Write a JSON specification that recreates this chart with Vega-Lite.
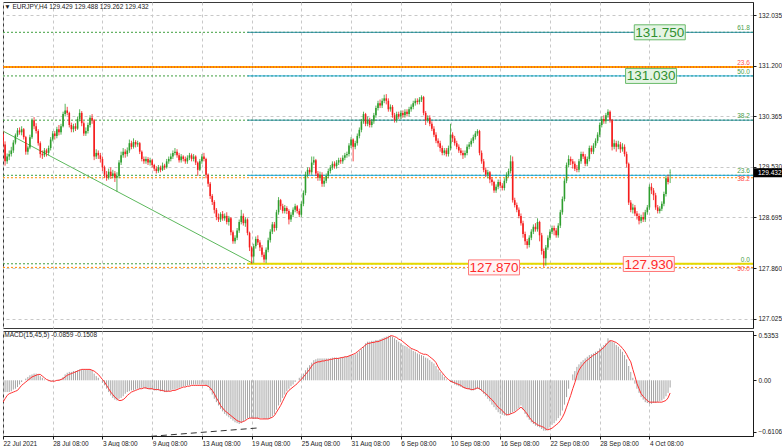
{
"$schema":"https://vega.github.io/schema/vega-lite/v6.json",
"background":"white",
"padding":{"left":2,"top":1,"right":0,"bottom":0},
"spacing":1,
"resolve":{"scale":{"x":"independent","y":"independent"}},
"config":{"font":"Liberation Sans","view":{"stroke":"#3a3a3a","strokeWidth":1},
"axis":{"labelFont":"Liberation Sans","labelFontSize":6.5,"labelColor":"#1a1a1a","tickColor":"#1a1a1a","domainColor":"#1a1a1a","gridColor":"#c8c8c8","gridDash":[3,3],"tickSize":3}},
"datasets":{"bars":[
{"i":0,"o":130.07,"hi":130.12,"lo":129.85,"c":129.90,"m":-0.14,"s":-0.26},
{"i":1,"o":129.90,"hi":129.95,"lo":129.55,"c":129.62,"m":-0.14,"s":-0.22},
{"i":2,"o":129.62,"hi":129.75,"lo":129.58,"c":129.70,"m":-0.14,"s":-0.18},
{"i":3,"o":129.70,"hi":129.80,"lo":129.64,"c":129.74,"m":-0.14,"s":-0.16},
{"i":4,"o":129.74,"hi":129.86,"lo":129.70,"c":129.80,"m":-0.13,"s":-0.15},
{"i":5,"o":129.80,"hi":129.97,"lo":129.76,"c":129.93,"m":-0.11,"s":-0.14},
{"i":6,"o":129.93,"hi":130.08,"lo":129.90,"c":130.05,"m":-0.10,"s":-0.13},
{"i":7,"o":130.05,"hi":130.17,"lo":130.02,"c":130.13,"m":-0.08,"s":-0.12},
{"i":8,"o":130.13,"hi":130.18,"lo":130.06,"c":130.10,"m":-0.05,"s":-0.09},
{"i":9,"o":130.10,"hi":130.20,"lo":130.05,"c":130.15,"m":-0.02,"s":-0.06},
{"i":10,"o":130.15,"hi":130.17,"lo":129.98,"c":130.02,"m":0.0,"s":-0.04},
{"i":11,"o":130.02,"hi":130.04,"lo":129.73,"c":129.78,"m":0.02,"s":-0.02},
{"i":12,"o":129.78,"hi":129.88,"lo":129.73,"c":129.85,"m":0.04,"s":0.0},
{"i":13,"o":129.85,"hi":130.06,"lo":129.82,"c":130.02,"m":0.06,"s":0.02},
{"i":14,"o":130.02,"hi":130.33,"lo":129.99,"c":130.30,"m":0.07,"s":0.04},
{"i":15,"o":130.30,"hi":130.35,"lo":130.15,"c":130.20,"m":0.08,"s":0.05},
{"i":16,"o":130.20,"hi":130.25,"lo":130.08,"c":130.12,"m":0.08,"s":0.06},
{"i":17,"o":130.12,"hi":130.15,"lo":129.88,"c":129.92,"m":0.07,"s":0.07},
{"i":18,"o":129.92,"hi":129.95,"lo":129.68,"c":129.74,"m":0.05,"s":0.07},
{"i":19,"o":129.74,"hi":129.80,"lo":129.66,"c":129.72,"m":0.03,"s":0.05},
{"i":20,"o":129.72,"hi":129.84,"lo":129.69,"c":129.80,"m":0.01,"s":0.03},
{"i":21,"o":129.80,"hi":129.83,"lo":129.70,"c":129.76,"m":0.0,"s":0.01},
{"i":22,"o":129.76,"hi":129.88,"lo":129.72,"c":129.84,"m":-0.01,"s":0.0},
{"i":23,"o":129.84,"hi":130.02,"lo":129.80,"c":129.98,"m":-0.01,"s":-0.01},
{"i":24,"o":129.98,"hi":130.12,"lo":129.95,"c":130.08,"m":-0.01,"s":-0.01},
{"i":25,"o":130.08,"hi":130.12,"lo":129.98,"c":130.04,"m":0.0,"s":-0.01},
{"i":26,"o":130.04,"hi":130.19,"lo":130.00,"c":130.15,"m":0.0,"s":0.0},
{"i":27,"o":130.15,"hi":130.22,"lo":130.05,"c":130.10,"m":0.01,"s":0.0},
{"i":28,"o":130.10,"hi":130.24,"lo":130.06,"c":130.20,"m":0.01,"s":0.01},
{"i":29,"o":130.20,"hi":130.44,"lo":130.18,"c":130.40,"m":0.04,"s":0.02},
{"i":30,"o":130.40,"hi":130.57,"lo":130.36,"c":130.46,"m":0.07,"s":0.04},
{"i":31,"o":130.46,"hi":130.52,"lo":130.38,"c":130.42,"m":0.09,"s":0.06},
{"i":32,"o":130.42,"hi":130.44,"lo":130.18,"c":130.22,"m":0.10,"s":0.07},
{"i":33,"o":130.22,"hi":130.26,"lo":130.10,"c":130.15,"m":0.10,"s":0.08},
{"i":34,"o":130.15,"hi":130.24,"lo":130.10,"c":130.20,"m":0.11,"s":0.09},
{"i":35,"o":130.20,"hi":130.25,"lo":130.12,"c":130.16,"m":0.11,"s":0.10},
{"i":36,"o":130.16,"hi":130.36,"lo":130.14,"c":130.32,"m":0.12,"s":0.11},
{"i":37,"o":130.32,"hi":130.48,"lo":130.28,"c":130.42,"m":0.13,"s":0.12},
{"i":38,"o":130.42,"hi":130.45,"lo":130.20,"c":130.25,"m":0.13,"s":0.13},
{"i":39,"o":130.25,"hi":130.28,"lo":130.04,"c":130.08,"m":0.13,"s":0.13},
{"i":40,"o":130.08,"hi":130.18,"lo":130.04,"c":130.12,"m":0.13,"s":0.13},
{"i":41,"o":130.12,"hi":130.26,"lo":130.08,"c":130.22,"m":0.13,"s":0.13},
{"i":42,"o":130.22,"hi":130.38,"lo":130.18,"c":130.34,"m":0.13,"s":0.13},
{"i":43,"o":130.34,"hi":130.40,"lo":130.24,"c":130.30,"m":0.12,"s":0.12},
{"i":44,"o":130.30,"hi":130.32,"lo":129.64,"c":129.70,"m":0.08,"s":0.11},
{"i":45,"o":129.70,"hi":129.82,"lo":129.66,"c":129.76,"m":0.05,"s":0.09},
{"i":46,"o":129.76,"hi":129.80,"lo":129.66,"c":129.72,"m":0.03,"s":0.07},
{"i":47,"o":129.72,"hi":129.76,"lo":129.60,"c":129.66,"m":0.0,"s":0.04},
{"i":48,"o":129.66,"hi":129.70,"lo":129.46,"c":129.52,"m":-0.03,"s":0.01},
{"i":49,"o":129.52,"hi":129.55,"lo":129.35,"c":129.40,"m":-0.06,"s":-0.02},
{"i":50,"o":129.40,"hi":129.46,"lo":129.30,"c":129.35,"m":-0.10,"s":-0.06},
{"i":51,"o":129.35,"hi":129.50,"lo":129.32,"c":129.45,"m":-0.14,"s":-0.10},
{"i":52,"o":129.45,"hi":129.52,"lo":129.33,"c":129.38,"m":-0.18,"s":-0.14},
{"i":53,"o":129.38,"hi":129.48,"lo":129.34,"c":129.42,"m":-0.21,"s":-0.17},
{"i":54,"o":129.42,"hi":129.46,"lo":129.28,"c":129.35,"m":-0.23,"s":-0.20},
{"i":55,"o":129.35,"hi":129.44,"lo":129.12,"c":129.38,"m":-0.24,"s":-0.22},
{"i":56,"o":129.38,"hi":129.64,"lo":129.34,"c":129.60,"m":-0.22,"s":-0.24},
{"i":57,"o":129.60,"hi":129.78,"lo":129.56,"c":129.72,"m":-0.21,"s":-0.24},
{"i":58,"o":129.72,"hi":129.84,"lo":129.68,"c":129.78,"m":-0.19,"s":-0.23},
{"i":59,"o":129.78,"hi":129.82,"lo":129.68,"c":129.74,"m":-0.16,"s":-0.21},
{"i":60,"o":129.74,"hi":129.85,"lo":129.70,"c":129.80,"m":-0.14,"s":-0.18},
{"i":61,"o":129.80,"hi":129.98,"lo":129.76,"c":129.92,"m":-0.13,"s":-0.16},
{"i":62,"o":129.92,"hi":129.96,"lo":129.82,"c":129.86,"m":-0.12,"s":-0.14},
{"i":63,"o":129.86,"hi":130.00,"lo":129.83,"c":129.94,"m":-0.12,"s":-0.13},
{"i":64,"o":129.94,"hi":129.97,"lo":129.85,"c":129.90,"m":-0.11,"s":-0.12},
{"i":65,"o":129.90,"hi":129.96,"lo":129.86,"c":129.92,"m":-0.10,"s":-0.11},
{"i":66,"o":129.92,"hi":129.94,"lo":129.74,"c":129.78,"m":-0.10,"s":-0.10},
{"i":67,"o":129.78,"hi":129.80,"lo":129.62,"c":129.66,"m":-0.09,"s":-0.10},
{"i":68,"o":129.66,"hi":129.70,"lo":129.58,"c":129.62,"m":-0.09,"s":-0.09},
{"i":69,"o":129.62,"hi":129.70,"lo":129.58,"c":129.66,"m":-0.10,"s":-0.09},
{"i":70,"o":129.66,"hi":129.69,"lo":129.56,"c":129.60,"m":-0.10,"s":-0.10},
{"i":71,"o":129.60,"hi":129.68,"lo":129.55,"c":129.64,"m":-0.11,"s":-0.10},
{"i":72,"o":129.64,"hi":129.66,"lo":129.52,"c":129.56,"m":-0.11,"s":-0.10},
{"i":73,"o":129.56,"hi":129.58,"lo":129.46,"c":129.50,"m":-0.12,"s":-0.11},
{"i":74,"o":129.50,"hi":129.54,"lo":129.42,"c":129.46,"m":-0.12,"s":-0.11},
{"i":75,"o":129.46,"hi":129.56,"lo":129.43,"c":129.52,"m":-0.12,"s":-0.11},
{"i":76,"o":129.52,"hi":129.55,"lo":129.44,"c":129.48,"m":-0.13,"s":-0.12},
{"i":77,"o":129.48,"hi":129.60,"lo":129.46,"c":129.55,"m":-0.13,"s":-0.12},
{"i":78,"o":129.55,"hi":129.58,"lo":129.48,"c":129.52,"m":-0.14,"s":-0.13},
{"i":79,"o":129.52,"hi":129.66,"lo":129.50,"c":129.62,"m":-0.14,"s":-0.13},
{"i":80,"o":129.62,"hi":129.70,"lo":129.58,"c":129.66,"m":-0.13,"s":-0.13},
{"i":81,"o":129.66,"hi":129.75,"lo":129.62,"c":129.70,"m":-0.12,"s":-0.13},
{"i":82,"o":129.70,"hi":129.80,"lo":129.66,"c":129.76,"m":-0.11,"s":-0.12},
{"i":83,"o":129.76,"hi":129.84,"lo":129.72,"c":129.78,"m":-0.11,"s":-0.12},
{"i":84,"o":129.78,"hi":129.82,"lo":129.68,"c":129.72,"m":-0.10,"s":-0.11},
{"i":85,"o":129.72,"hi":129.76,"lo":129.60,"c":129.64,"m":-0.09,"s":-0.10},
{"i":86,"o":129.64,"hi":129.74,"lo":129.60,"c":129.70,"m":-0.08,"s":-0.09},
{"i":87,"o":129.70,"hi":129.72,"lo":129.62,"c":129.66,"m":-0.07,"s":-0.08},
{"i":88,"o":129.66,"hi":129.70,"lo":129.58,"c":129.62,"m":-0.07,"s":-0.08},
{"i":89,"o":129.62,"hi":129.72,"lo":129.58,"c":129.68,"m":-0.06,"s":-0.07},
{"i":90,"o":129.68,"hi":129.76,"lo":129.64,"c":129.72,"m":-0.06,"s":-0.07},
{"i":91,"o":129.72,"hi":129.75,"lo":129.62,"c":129.66,"m":-0.05,"s":-0.06},
{"i":92,"o":129.66,"hi":129.74,"lo":129.62,"c":129.70,"m":-0.05,"s":-0.06},
{"i":93,"o":129.70,"hi":129.72,"lo":129.56,"c":129.60,"m":-0.05,"s":-0.06},
{"i":94,"o":129.60,"hi":129.62,"lo":129.38,"c":129.48,"m":-0.05,"s":-0.06},
{"i":95,"o":129.48,"hi":129.66,"lo":129.46,"c":129.62,"m":-0.05,"s":-0.06},
{"i":96,"o":129.62,"hi":129.74,"lo":129.58,"c":129.70,"m":-0.05,"s":-0.06},
{"i":97,"o":129.70,"hi":129.76,"lo":129.62,"c":129.66,"m":-0.05,"s":-0.06},
{"i":98,"o":129.66,"hi":129.68,"lo":129.34,"c":129.40,"m":-0.06,"s":-0.06},
{"i":99,"o":129.40,"hi":129.42,"lo":129.20,"c":129.25,"m":-0.08,"s":-0.07},
{"i":100,"o":129.25,"hi":129.28,"lo":129.00,"c":129.05,"m":-0.12,"s":-0.09},
{"i":101,"o":129.05,"hi":129.08,"lo":128.90,"c":128.95,"m":-0.17,"s":-0.12},
{"i":102,"o":128.95,"hi":128.98,"lo":128.76,"c":128.82,"m":-0.22,"s":-0.16},
{"i":103,"o":128.82,"hi":128.85,"lo":128.65,"c":128.70,"m":-0.26,"s":-0.21},
{"i":104,"o":128.70,"hi":128.76,"lo":128.62,"c":128.66,"m":-0.30,"s":-0.25},
{"i":105,"o":128.66,"hi":128.78,"lo":128.62,"c":128.75,"m":-0.34,"s":-0.30},
{"i":106,"o":128.75,"hi":128.80,"lo":128.64,"c":128.68,"m":-0.37,"s":-0.33},
{"i":107,"o":128.68,"hi":128.76,"lo":128.64,"c":128.72,"m":-0.40,"s":-0.36},
{"i":108,"o":128.72,"hi":128.78,"lo":128.58,"c":128.62,"m":-0.42,"s":-0.38},
{"i":109,"o":128.62,"hi":128.72,"lo":128.56,"c":128.68,"m":-0.44,"s":-0.40},
{"i":110,"o":128.68,"hi":128.70,"lo":128.40,"c":128.45,"m":-0.46,"s":-0.42},
{"i":111,"o":128.45,"hi":128.48,"lo":128.26,"c":128.30,"m":-0.48,"s":-0.44},
{"i":112,"o":128.30,"hi":128.40,"lo":128.26,"c":128.36,"m":-0.50,"s":-0.46},
{"i":113,"o":128.36,"hi":128.52,"lo":128.32,"c":128.48,"m":-0.51,"s":-0.48},
{"i":114,"o":128.48,"hi":128.66,"lo":128.44,"c":128.62,"m":-0.52,"s":-0.49},
{"i":115,"o":128.62,"hi":128.82,"lo":128.58,"c":128.72,"m":-0.51,"s":-0.50},
{"i":116,"o":128.72,"hi":128.76,"lo":128.56,"c":128.60,"m":-0.49,"s":-0.49},
{"i":117,"o":128.60,"hi":128.70,"lo":128.54,"c":128.66,"m":-0.47,"s":-0.48},
{"i":118,"o":128.66,"hi":128.68,"lo":128.40,"c":128.44,"m":-0.45,"s":-0.46},
{"i":119,"o":128.44,"hi":128.46,"lo":128.14,"c":128.20,"m":-0.45,"s":-0.45},
{"i":120,"o":128.20,"hi":128.22,"lo":127.93,"c":128.05,"m":-0.45,"s":-0.45},
{"i":121,"o":128.05,"hi":128.26,"lo":127.94,"c":128.22,"m":-0.46,"s":-0.45},
{"i":122,"o":128.22,"hi":128.38,"lo":128.18,"c":128.34,"m":-0.46,"s":-0.45},
{"i":123,"o":128.34,"hi":128.40,"lo":128.24,"c":128.28,"m":-0.46,"s":-0.45},
{"i":124,"o":128.28,"hi":128.32,"lo":128.14,"c":128.20,"m":-0.45,"s":-0.46},
{"i":125,"o":128.20,"hi":128.24,"lo":128.04,"c":128.08,"m":-0.45,"s":-0.46},
{"i":126,"o":128.08,"hi":128.12,"lo":127.95,"c":128.00,"m":-0.46,"s":-0.46},
{"i":127,"o":128.00,"hi":128.20,"lo":127.94,"c":128.16,"m":-0.46,"s":-0.46},
{"i":128,"o":128.16,"hi":128.36,"lo":128.12,"c":128.32,"m":-0.46,"s":-0.46},
{"i":129,"o":128.32,"hi":128.50,"lo":128.28,"c":128.46,"m":-0.45,"s":-0.45},
{"i":130,"o":128.46,"hi":128.62,"lo":128.42,"c":128.58,"m":-0.43,"s":-0.44},
{"i":131,"o":128.58,"hi":128.62,"lo":128.46,"c":128.52,"m":-0.40,"s":-0.42},
{"i":132,"o":128.52,"hi":128.82,"lo":128.48,"c":128.78,"m":-0.35,"s":-0.38},
{"i":133,"o":128.78,"hi":129.03,"lo":128.74,"c":128.98,"m":-0.30,"s":-0.34},
{"i":134,"o":128.98,"hi":129.00,"lo":128.82,"c":128.88,"m":-0.26,"s":-0.30},
{"i":135,"o":128.88,"hi":128.92,"lo":128.76,"c":128.80,"m":-0.21,"s":-0.25},
{"i":136,"o":128.80,"hi":128.90,"lo":128.76,"c":128.85,"m":-0.17,"s":-0.20},
{"i":137,"o":128.85,"hi":128.88,"lo":128.75,"c":128.80,"m":-0.13,"s":-0.15},
{"i":138,"o":128.80,"hi":128.83,"lo":128.58,"c":128.66,"m":-0.10,"s":-0.12},
{"i":139,"o":128.66,"hi":128.78,"lo":128.62,"c":128.74,"m":-0.07,"s":-0.10},
{"i":140,"o":128.74,"hi":128.86,"lo":128.70,"c":128.82,"m":-0.05,"s":-0.08},
{"i":141,"o":128.82,"hi":128.92,"lo":128.78,"c":128.88,"m":-0.02,"s":-0.06},
{"i":142,"o":128.88,"hi":128.90,"lo":128.76,"c":128.80,"m":0.0,"s":-0.04},
{"i":143,"o":128.80,"hi":128.84,"lo":128.70,"c":128.74,"m":0.03,"s":-0.01},
{"i":144,"o":128.74,"hi":128.96,"lo":128.70,"c":128.92,"m":0.05,"s":0.01},
{"i":145,"o":128.92,"hi":129.14,"lo":128.88,"c":129.10,"m":0.08,"s":0.04},
{"i":146,"o":129.10,"hi":129.45,"lo":129.06,"c":129.40,"m":0.12,"s":0.07},
{"i":147,"o":129.40,"hi":129.52,"lo":129.36,"c":129.48,"m":0.15,"s":0.10},
{"i":148,"o":129.48,"hi":129.52,"lo":129.40,"c":129.44,"m":0.18,"s":0.13},
{"i":149,"o":129.44,"hi":129.70,"lo":129.40,"c":129.60,"m":0.21,"s":0.17},
{"i":150,"o":129.60,"hi":129.70,"lo":129.56,"c":129.64,"m":0.24,"s":0.20},
{"i":151,"o":129.64,"hi":129.66,"lo":129.38,"c":129.42,"m":0.25,"s":0.21},
{"i":152,"o":129.42,"hi":129.46,"lo":129.30,"c":129.35,"m":0.26,"s":0.22},
{"i":153,"o":129.35,"hi":129.45,"lo":129.30,"c":129.40,"m":0.26,"s":0.22},
{"i":154,"o":129.40,"hi":129.44,"lo":129.20,"c":129.25,"m":0.26,"s":0.23},
{"i":155,"o":129.25,"hi":129.35,"lo":129.20,"c":129.30,"m":0.26,"s":0.23},
{"i":156,"o":129.30,"hi":129.42,"lo":129.26,"c":129.38,"m":0.26,"s":0.24},
{"i":157,"o":129.38,"hi":129.50,"lo":129.34,"c":129.46,"m":0.26,"s":0.24},
{"i":158,"o":129.46,"hi":129.56,"lo":129.42,"c":129.52,"m":0.26,"s":0.25},
{"i":159,"o":129.52,"hi":129.62,"lo":129.48,"c":129.58,"m":0.27,"s":0.25},
{"i":160,"o":129.58,"hi":129.62,"lo":129.50,"c":129.54,"m":0.27,"s":0.26},
{"i":161,"o":129.54,"hi":129.64,"lo":129.50,"c":129.60,"m":0.27,"s":0.26},
{"i":162,"o":129.60,"hi":129.68,"lo":129.56,"c":129.64,"m":0.27,"s":0.26},
{"i":163,"o":129.64,"hi":129.68,"lo":129.58,"c":129.62,"m":0.27,"s":0.27},
{"i":164,"o":129.62,"hi":129.72,"lo":129.58,"c":129.68,"m":0.28,"s":0.27},
{"i":165,"o":129.68,"hi":129.76,"lo":129.64,"c":129.72,"m":0.28,"s":0.28},
{"i":166,"o":129.72,"hi":129.78,"lo":129.68,"c":129.74,"m":0.28,"s":0.28},
{"i":167,"o":129.74,"hi":129.92,"lo":129.70,"c":129.88,"m":0.29,"s":0.29},
{"i":168,"o":129.88,"hi":130.02,"lo":129.84,"c":129.98,"m":0.30,"s":0.30},
{"i":169,"o":129.98,"hi":130.00,"lo":129.62,"c":129.86,"m":0.30,"s":0.31},
{"i":170,"o":129.86,"hi":129.96,"lo":129.82,"c":129.92,"m":0.31,"s":0.32},
{"i":171,"o":129.92,"hi":130.08,"lo":129.88,"c":130.04,"m":0.33,"s":0.34},
{"i":172,"o":130.04,"hi":130.18,"lo":130.00,"c":130.14,"m":0.35,"s":0.36},
{"i":173,"o":130.14,"hi":130.32,"lo":130.10,"c":130.28,"m":0.37,"s":0.38},
{"i":174,"o":130.28,"hi":130.44,"lo":130.24,"c":130.40,"m":0.40,"s":0.40},
{"i":175,"o":130.40,"hi":130.42,"lo":130.20,"c":130.24,"m":0.44,"s":0.42},
{"i":176,"o":130.24,"hi":130.36,"lo":130.20,"c":130.30,"m":0.46,"s":0.44},
{"i":177,"o":130.30,"hi":130.34,"lo":130.18,"c":130.22,"m":0.46,"s":0.44},
{"i":178,"o":130.22,"hi":130.32,"lo":130.18,"c":130.28,"m":0.47,"s":0.45},
{"i":179,"o":130.28,"hi":130.42,"lo":130.24,"c":130.38,"m":0.47,"s":0.45},
{"i":180,"o":130.38,"hi":130.54,"lo":130.34,"c":130.50,"m":0.48,"s":0.46},
{"i":181,"o":130.50,"hi":130.62,"lo":130.46,"c":130.58,"m":0.48,"s":0.46},
{"i":182,"o":130.58,"hi":130.64,"lo":130.50,"c":130.54,"m":0.49,"s":0.47},
{"i":183,"o":130.54,"hi":130.66,"lo":130.50,"c":130.62,"m":0.50,"s":0.48},
{"i":184,"o":130.62,"hi":130.72,"lo":130.58,"c":130.66,"m":0.51,"s":0.49},
{"i":185,"o":130.66,"hi":130.73,"lo":130.56,"c":130.62,"m":0.52,"s":0.50},
{"i":186,"o":130.62,"hi":130.66,"lo":130.44,"c":130.48,"m":0.53,"s":0.51},
{"i":187,"o":130.48,"hi":130.56,"lo":130.44,"c":130.52,"m":0.53,"s":0.53},
{"i":188,"o":130.52,"hi":130.55,"lo":130.34,"c":130.38,"m":0.52,"s":0.53},
{"i":189,"o":130.38,"hi":130.42,"lo":130.26,"c":130.30,"m":0.50,"s":0.52},
{"i":190,"o":130.30,"hi":130.44,"lo":130.26,"c":130.40,"m":0.48,"s":0.51},
{"i":191,"o":130.40,"hi":130.44,"lo":130.32,"c":130.36,"m":0.46,"s":0.49},
{"i":192,"o":130.36,"hi":130.46,"lo":130.32,"c":130.42,"m":0.44,"s":0.48},
{"i":193,"o":130.42,"hi":130.46,"lo":130.34,"c":130.38,"m":0.42,"s":0.46},
{"i":194,"o":130.38,"hi":130.48,"lo":130.34,"c":130.44,"m":0.41,"s":0.44},
{"i":195,"o":130.44,"hi":130.48,"lo":130.36,"c":130.40,"m":0.40,"s":0.42},
{"i":196,"o":130.40,"hi":130.52,"lo":130.36,"c":130.48,"m":0.38,"s":0.40},
{"i":197,"o":130.48,"hi":130.56,"lo":130.44,"c":130.52,"m":0.37,"s":0.38},
{"i":198,"o":130.52,"hi":130.62,"lo":130.48,"c":130.58,"m":0.35,"s":0.37},
{"i":199,"o":130.58,"hi":130.66,"lo":130.54,"c":130.62,"m":0.34,"s":0.36},
{"i":200,"o":130.62,"hi":130.66,"lo":130.56,"c":130.60,"m":0.32,"s":0.35},
{"i":201,"o":130.60,"hi":130.68,"lo":130.56,"c":130.64,"m":0.31,"s":0.33},
{"i":202,"o":130.64,"hi":130.71,"lo":130.60,"c":130.68,"m":0.30,"s":0.32},
{"i":203,"o":130.68,"hi":130.70,"lo":130.38,"c":130.42,"m":0.29,"s":0.31},
{"i":204,"o":130.42,"hi":130.45,"lo":130.22,"c":130.30,"m":0.27,"s":0.31},
{"i":205,"o":130.30,"hi":130.38,"lo":130.26,"c":130.34,"m":0.26,"s":0.30},
{"i":206,"o":130.34,"hi":130.38,"lo":130.20,"c":130.24,"m":0.24,"s":0.28},
{"i":207,"o":130.24,"hi":130.28,"lo":130.12,"c":130.16,"m":0.22,"s":0.26},
{"i":208,"o":130.16,"hi":130.20,"lo":130.02,"c":130.06,"m":0.20,"s":0.24},
{"i":209,"o":130.06,"hi":130.10,"lo":129.92,"c":129.96,"m":0.17,"s":0.21},
{"i":210,"o":129.96,"hi":130.00,"lo":129.86,"c":129.92,"m":0.13,"s":0.16},
{"i":211,"o":129.92,"hi":129.96,"lo":129.78,"c":129.84,"m":0.10,"s":0.12},
{"i":212,"o":129.84,"hi":129.88,"lo":129.72,"c":129.76,"m":0.07,"s":0.09},
{"i":213,"o":129.76,"hi":129.84,"lo":129.72,"c":129.80,"m":0.04,"s":0.06},
{"i":214,"o":129.80,"hi":129.84,"lo":129.70,"c":129.74,"m":0.01,"s":0.03},
{"i":215,"o":129.74,"hi":129.88,"lo":129.70,"c":129.84,"m":0.0,"s":0.01},
{"i":216,"o":129.84,"hi":130.24,"lo":129.80,"c":130.06,"m":-0.02,"s":-0.01},
{"i":217,"o":130.06,"hi":130.10,"lo":129.94,"c":130.00,"m":-0.03,"s":-0.02},
{"i":218,"o":130.00,"hi":130.04,"lo":129.88,"c":129.92,"m":-0.05,"s":-0.03},
{"i":219,"o":129.92,"hi":129.96,"lo":129.82,"c":129.86,"m":-0.06,"s":-0.04},
{"i":220,"o":129.86,"hi":129.90,"lo":129.76,"c":129.80,"m":-0.07,"s":-0.05},
{"i":221,"o":129.80,"hi":129.84,"lo":129.72,"c":129.76,"m":-0.08,"s":-0.06},
{"i":222,"o":129.76,"hi":129.80,"lo":129.66,"c":129.72,"m":-0.09,"s":-0.08},
{"i":223,"o":129.72,"hi":129.80,"lo":129.68,"c":129.76,"m":-0.10,"s":-0.09},
{"i":224,"o":129.76,"hi":129.90,"lo":129.72,"c":129.86,"m":-0.10,"s":-0.10},
{"i":225,"o":129.86,"hi":129.94,"lo":129.82,"c":129.90,"m":-0.11,"s":-0.10},
{"i":226,"o":129.90,"hi":130.00,"lo":129.86,"c":129.96,"m":-0.12,"s":-0.11},
{"i":227,"o":129.96,"hi":130.06,"lo":129.92,"c":130.02,"m":-0.12,"s":-0.11},
{"i":228,"o":130.02,"hi":130.12,"lo":129.98,"c":130.08,"m":-0.11,"s":-0.10},
{"i":229,"o":130.08,"hi":130.15,"lo":130.04,"c":130.12,"m":-0.10,"s":-0.09},
{"i":230,"o":130.12,"hi":130.14,"lo":129.72,"c":129.76,"m":-0.11,"s":-0.10},
{"i":231,"o":129.76,"hi":129.80,"lo":129.58,"c":129.62,"m":-0.13,"s":-0.12},
{"i":232,"o":129.62,"hi":129.66,"lo":129.44,"c":129.48,"m":-0.16,"s":-0.14},
{"i":233,"o":129.48,"hi":129.52,"lo":129.36,"c":129.40,"m":-0.19,"s":-0.16},
{"i":234,"o":129.40,"hi":129.48,"lo":129.34,"c":129.44,"m":-0.22,"s":-0.18},
{"i":235,"o":129.44,"hi":129.46,"lo":129.26,"c":129.32,"m":-0.25,"s":-0.21},
{"i":236,"o":129.32,"hi":129.36,"lo":129.22,"c":129.28,"m":-0.29,"s":-0.23},
{"i":237,"o":129.28,"hi":129.30,"lo":129.10,"c":129.14,"m":-0.32,"s":-0.26},
{"i":238,"o":129.14,"hi":129.24,"lo":129.10,"c":129.20,"m":-0.35,"s":-0.29},
{"i":239,"o":129.20,"hi":129.32,"lo":129.16,"c":129.28,"m":-0.38,"s":-0.32},
{"i":240,"o":129.28,"hi":129.32,"lo":129.18,"c":129.22,"m":-0.40,"s":-0.34},
{"i":241,"o":129.22,"hi":129.26,"lo":129.14,"c":129.18,"m":-0.41,"s":-0.36},
{"i":242,"o":129.18,"hi":129.34,"lo":129.14,"c":129.30,"m":-0.42,"s":-0.39},
{"i":243,"o":129.30,"hi":129.44,"lo":129.26,"c":129.40,"m":-0.42,"s":-0.41},
{"i":244,"o":129.40,"hi":129.50,"lo":129.36,"c":129.46,"m":-0.41,"s":-0.41},
{"i":245,"o":129.46,"hi":129.72,"lo":129.42,"c":129.62,"m":-0.40,"s":-0.40},
{"i":246,"o":129.62,"hi":129.70,"lo":128.94,"c":128.98,"m":-0.38,"s":-0.39},
{"i":247,"o":128.98,"hi":129.02,"lo":128.86,"c":128.90,"m":-0.37,"s":-0.38},
{"i":248,"o":128.90,"hi":128.94,"lo":128.78,"c":128.82,"m":-0.35,"s":-0.36},
{"i":249,"o":128.82,"hi":128.86,"lo":128.68,"c":128.72,"m":-0.33,"s":-0.34},
{"i":250,"o":128.72,"hi":128.76,"lo":128.56,"c":128.60,"m":-0.30,"s":-0.32},
{"i":251,"o":128.60,"hi":128.64,"lo":128.36,"c":128.42,"m":-0.35,"s":-0.34},
{"i":252,"o":128.42,"hi":128.46,"lo":128.24,"c":128.30,"m":-0.40,"s":-0.37},
{"i":253,"o":128.30,"hi":128.34,"lo":128.18,"c":128.24,"m":-0.44,"s":-0.40},
{"i":254,"o":128.24,"hi":128.40,"lo":128.20,"c":128.36,"m":-0.47,"s":-0.44},
{"i":255,"o":128.36,"hi":128.50,"lo":128.32,"c":128.46,"m":-0.50,"s":-0.47},
{"i":256,"o":128.46,"hi":128.58,"lo":128.42,"c":128.54,"m":-0.52,"s":-0.50},
{"i":257,"o":128.54,"hi":128.60,"lo":128.46,"c":128.50,"m":-0.54,"s":-0.51},
{"i":258,"o":128.50,"hi":128.68,"lo":128.46,"c":128.62,"m":-0.55,"s":-0.53},
{"i":259,"o":128.62,"hi":128.64,"lo":128.30,"c":128.40,"m":-0.56,"s":-0.54},
{"i":260,"o":128.40,"hi":128.44,"lo":128.08,"c":128.14,"m":-0.58,"s":-0.55},
{"i":261,"o":128.14,"hi":128.18,"lo":127.88,"c":128.02,"m":-0.60,"s":-0.56},
{"i":262,"o":128.02,"hi":128.24,"lo":127.90,"c":128.20,"m":-0.60,"s":-0.58},
{"i":263,"o":128.20,"hi":128.40,"lo":128.16,"c":128.36,"m":-0.58,"s":-0.59},
{"i":264,"o":128.36,"hi":128.50,"lo":128.32,"c":128.46,"m":-0.56,"s":-0.58},
{"i":265,"o":128.46,"hi":128.56,"lo":128.42,"c":128.52,"m":-0.53,"s":-0.57},
{"i":266,"o":128.52,"hi":128.56,"lo":128.40,"c":128.48,"m":-0.51,"s":-0.55},
{"i":267,"o":128.48,"hi":128.52,"lo":128.36,"c":128.40,"m":-0.48,"s":-0.53},
{"i":268,"o":128.40,"hi":128.60,"lo":128.36,"c":128.56,"m":-0.45,"s":-0.51},
{"i":269,"o":128.56,"hi":128.82,"lo":128.52,"c":128.78,"m":-0.42,"s":-0.48},
{"i":270,"o":128.78,"hi":129.04,"lo":128.74,"c":129.00,"m":-0.36,"s":-0.44},
{"i":271,"o":129.00,"hi":129.34,"lo":128.96,"c":129.30,"m":-0.29,"s":-0.39},
{"i":272,"o":129.30,"hi":129.60,"lo":129.26,"c":129.56,"m":-0.20,"s":-0.32},
{"i":273,"o":129.56,"hi":129.72,"lo":129.52,"c":129.66,"m":-0.10,"s":-0.25},
{"i":274,"o":129.66,"hi":129.70,"lo":129.56,"c":129.62,"m":0.0,"s":-0.18},
{"i":275,"o":129.62,"hi":129.66,"lo":129.50,"c":129.58,"m":0.07,"s":-0.10},
{"i":276,"o":129.58,"hi":129.62,"lo":129.46,"c":129.50,"m":0.11,"s":-0.03},
{"i":277,"o":129.50,"hi":129.56,"lo":129.44,"c":129.48,"m":0.16,"s":0.06},
{"i":278,"o":129.48,"hi":129.66,"lo":129.44,"c":129.62,"m":0.19,"s":0.12},
{"i":279,"o":129.62,"hi":129.78,"lo":129.58,"c":129.74,"m":0.22,"s":0.16},
{"i":280,"o":129.74,"hi":129.78,"lo":129.66,"c":129.70,"m":0.24,"s":0.19},
{"i":281,"o":129.70,"hi":129.74,"lo":129.54,"c":129.58,"m":0.26,"s":0.22},
{"i":282,"o":129.58,"hi":129.70,"lo":129.54,"c":129.66,"m":0.28,"s":0.24},
{"i":283,"o":129.66,"hi":129.88,"lo":129.62,"c":129.84,"m":0.30,"s":0.26},
{"i":284,"o":129.84,"hi":129.88,"lo":129.74,"c":129.78,"m":0.31,"s":0.28},
{"i":285,"o":129.78,"hi":129.92,"lo":129.74,"c":129.88,"m":0.32,"s":0.30},
{"i":286,"o":129.88,"hi":130.00,"lo":129.84,"c":129.96,"m":0.34,"s":0.31},
{"i":287,"o":129.96,"hi":130.10,"lo":129.92,"c":130.06,"m":0.35,"s":0.33},
{"i":288,"o":130.06,"hi":130.26,"lo":130.02,"c":130.22,"m":0.38,"s":0.35},
{"i":289,"o":130.22,"hi":130.36,"lo":130.18,"c":130.32,"m":0.40,"s":0.37},
{"i":290,"o":130.32,"hi":130.38,"lo":130.24,"c":130.28,"m":0.42,"s":0.39},
{"i":291,"o":130.28,"hi":130.42,"lo":130.24,"c":130.38,"m":0.44,"s":0.42},
{"i":292,"o":130.38,"hi":130.48,"lo":130.34,"c":130.44,"m":0.50,"s":0.45},
{"i":293,"o":130.44,"hi":130.46,"lo":130.26,"c":130.30,"m":0.48,"s":0.47},
{"i":294,"o":130.30,"hi":130.32,"lo":129.80,"c":129.86,"m":0.46,"s":0.47},
{"i":295,"o":129.86,"hi":129.98,"lo":129.82,"c":129.92,"m":0.45,"s":0.46},
{"i":296,"o":129.92,"hi":129.96,"lo":129.78,"c":129.86,"m":0.42,"s":0.45},
{"i":297,"o":129.86,"hi":129.96,"lo":129.82,"c":129.90,"m":0.40,"s":0.43},
{"i":298,"o":129.90,"hi":129.94,"lo":129.76,"c":129.82,"m":0.37,"s":0.41},
{"i":299,"o":129.82,"hi":129.92,"lo":129.78,"c":129.86,"m":0.34,"s":0.38},
{"i":300,"o":129.86,"hi":129.90,"lo":129.70,"c":129.74,"m":0.30,"s":0.35},
{"i":301,"o":129.74,"hi":129.78,"lo":129.52,"c":129.58,"m":0.25,"s":0.31},
{"i":302,"o":129.58,"hi":129.60,"lo":128.90,"c":128.94,"m":0.17,"s":0.26},
{"i":303,"o":128.94,"hi":128.98,"lo":128.78,"c":128.82,"m":0.10,"s":0.22},
{"i":304,"o":128.82,"hi":128.92,"lo":128.76,"c":128.86,"m":0.03,"s":0.13},
{"i":305,"o":128.86,"hi":128.90,"lo":128.72,"c":128.76,"m":-0.04,"s":0.05},
{"i":306,"o":128.76,"hi":128.80,"lo":128.66,"c":128.72,"m":-0.10,"s":-0.04},
{"i":307,"o":128.72,"hi":128.76,"lo":128.58,"c":128.64,"m":-0.15,"s":-0.10},
{"i":308,"o":128.64,"hi":128.74,"lo":128.60,"c":128.70,"m":-0.20,"s":-0.16},
{"i":309,"o":128.70,"hi":128.78,"lo":128.62,"c":128.66,"m":-0.23,"s":-0.19},
{"i":310,"o":128.66,"hi":128.82,"lo":128.62,"c":128.78,"m":-0.26,"s":-0.22},
{"i":311,"o":128.78,"hi":128.90,"lo":128.74,"c":128.86,"m":-0.27,"s":-0.24},
{"i":312,"o":128.86,"hi":129.24,"lo":128.82,"c":129.20,"m":-0.28,"s":-0.26},
{"i":313,"o":129.20,"hi":129.26,"lo":129.08,"c":129.14,"m":-0.28,"s":-0.26},
{"i":314,"o":129.14,"hi":129.18,"lo":128.98,"c":129.06,"m":-0.27,"s":-0.26},
{"i":315,"o":129.06,"hi":129.10,"lo":128.82,"c":128.86,"m":-0.27,"s":-0.26},
{"i":316,"o":128.86,"hi":128.90,"lo":128.76,"c":128.80,"m":-0.26,"s":-0.26},
{"i":317,"o":128.80,"hi":128.88,"lo":128.76,"c":128.84,"m":-0.25,"s":-0.26},
{"i":318,"o":128.84,"hi":128.96,"lo":128.80,"c":128.92,"m":-0.24,"s":-0.26},
{"i":319,"o":128.92,"hi":129.12,"lo":128.88,"c":129.08,"m":-0.22,"s":-0.25},
{"i":320,"o":129.08,"hi":129.38,"lo":129.04,"c":129.34,"m":-0.19,"s":-0.24},
{"i":321,"o":129.34,"hi":129.40,"lo":129.24,"c":129.28,"m":-0.15,"s":-0.21},
{"i":322,"o":129.429,"hi":129.488,"lo":129.262,"c":129.432,"m":-0.0859,"s":-0.1508}
]},
"vconcat":[
{"width":750,"height":326,
"layer":[
{"data":{"values":[{"v":131.75},{"v":131.03},{"v":130.30},{"v":129.39},{"v":127.93}]},
"mark":{"type":"rule","color":"#3f9f3f","strokeDash":[2,2],"strokeWidth":1,"clip":true},
"encoding":{"y":{"field":"v","type":"quantitative","scale":{"domain":[126.87,132.25],"nice":false,"zero":false},
"axis":{"orient":"right","values":[127.025,127.445,127.86,128.28,128.695,129.115,129.53,129.95,130.365,130.785,131.2,131.62,132.035],"format":".3f","grid":true,"tickSize":3,"labelPadding":2,"title":null}},
"x":{"datum":0,"type":"quantitative","scale":{"domain":[0,362],"nice":false,"zero":false},
"axis":{"values":[0,24,48,72,96,120,144,168,192,216,240,264,288,312],"labels":false,"ticks":false,"domain":false,"grid":true,"title":null}},
"x2":{"datum":362}}},
{"data":{"values":[{"v":131.75},{"v":130.30}]},
"mark":{"type":"rule","color":"#2b8aa0","strokeWidth":1,"clip":true},
"encoding":{"y":{"field":"v","type":"quantitative"},"x":{"datum":118,"type":"quantitative"},"x2":{"datum":362}}},
{"data":{"values":[{"v":131.03},{"v":129.39}]},
"mark":{"type":"rule","color":"#1ea4dc","strokeWidth":1,"clip":true},
"encoding":{"y":{"field":"v","type":"quantitative"},"x":{"datum":118,"type":"quantitative"},"x2":{"datum":362}}},
{"data":{"values":[{"v":131.177}]},
"mark":{"type":"rule","color":"#ffa000","strokeWidth":2,"clip":true},
"encoding":{"y":{"field":"v","type":"quantitative"},"x":{"datum":0,"type":"quantitative"},"x2":{"datum":362}}},
{"data":{"values":[{"v":131.177}]},
"mark":{"type":"rule","color":"#e83030","strokeDash":[1,2],"strokeWidth":1,"clip":true},
"encoding":{"y":{"field":"v","type":"quantitative"},"x":{"datum":0,"type":"quantitative"},"x2":{"datum":362}}},
{"data":{"values":[{"v":129.35},{"v":127.87}]},
"mark":{"type":"rule","color":"#ff8c00","strokeDash":[2,2],"strokeWidth":1,"clip":true},
"encoding":{"y":{"field":"v","type":"quantitative"},"x":{"datum":0,"type":"quantitative"},"x2":{"datum":362}}},
{"data":{"values":[{"v":127.93}]},
"mark":{"type":"rule","color":"#e6d800","strokeWidth":2,"clip":true},
"encoding":{"y":{"field":"v","type":"quantitative"},"x":{"datum":118,"type":"quantitative"},"x2":{"datum":362}}},
{"data":{"values":[{"i":0,"p":130.12},{"i":120.5,"p":127.94}]},
"mark":{"type":"line","color":"#5cb85c","strokeWidth":1,"clip":true},
"encoding":{"x":{"field":"i","type":"quantitative"},"y":{"field":"p","type":"quantitative"}}},
{"data":{"name":"bars"},
"mark":{"type":"rule","strokeWidth":0.8,"clip":true},
"encoding":{"x":{"field":"i","type":"quantitative"},"y":{"field":"lo","type":"quantitative"},"y2":{"field":"hi"},
"color":{"condition":{"test":"datum.c >= datum.o","value":"#2e9e2e"},"value":"#f51c1c"}}},
{"data":{"name":"bars"},
"mark":{"type":"rule","strokeWidth":1.6,"clip":true},
"encoding":{"x":{"field":"i","type":"quantitative"},"y":{"field":"o","type":"quantitative"},"y2":{"field":"c"},
"color":{"condition":{"test":"datum.c >= datum.o","value":"#2e9e2e"},"value":"#f51c1c"}}},
{"data":{"values":[{"t":"61.8","p":131.75},{"t":"50.0","p":131.03},{"t":"38.2","p":130.30},{"t":"23.6","p":129.39},{"t":"0.0","p":127.93}]},
"mark":{"type":"text","align":"right","baseline":"bottom","dy":-1,"fontSize":6.5,"color":"#4a9e4a"},
"encoding":{"x":{"datum":360.5,"type":"quantitative"},"y":{"field":"p","type":"quantitative"},"text":{"field":"t"}}},
{"data":{"values":[{"t":"23.6","p":131.177}]},
"mark":{"type":"text","align":"right","baseline":"bottom","dy":-1,"fontSize":6.5,"color":"#ff5050"},
"encoding":{"x":{"datum":360.5,"type":"quantitative"},"y":{"field":"p","type":"quantitative"},"text":{"field":"t"}}},
{"data":{"values":[{"t":"38.2","p":129.35},{"t":"50.0","p":127.87}]},
"mark":{"type":"text","align":"right","baseline":"top","dy":-1.5,"fontSize":6.5,"color":"#ff5050"},
"encoding":{"x":{"datum":360.5,"type":"quantitative"},"y":{"field":"p","type":"quantitative"},"text":{"field":"t"}}},
{"data":{"values":[{"t":"131.750","i":317,"p":131.75},{"t":"131.030","i":312.8,"p":131.03}]},
"mark":{"type":"rect","fill":"#e4f4e4","stroke":"#6aba6a","strokeWidth":1,"xOffset":-25.5,"x2Offset":25.5,"yOffset":-7.5,"y2Offset":7.5},
"encoding":{"x":{"field":"i","type":"quantitative"},"x2":{"field":"i"},"y":{"field":"p","type":"quantitative"},"y2":{"field":"p"}}},
{"data":{"values":[{"t":"131.750","i":317,"p":131.75},{"t":"131.030","i":312.8,"p":131.03}]},
"mark":{"type":"text","fontSize":13.5,"color":"#2f902f","align":"center","baseline":"middle","dy":0.5},
"encoding":{"x":{"field":"i","type":"quantitative"},"y":{"field":"p","type":"quantitative"},"text":{"field":"t"}}},
{"data":{"values":[{"t":"127.870","i":237,"p":127.87},{"t":"127.930","i":311.7,"p":127.926}]},
"mark":{"type":"rect","fill":"#fff4f4","stroke":"#ff7a7a","strokeWidth":1,"xOffset":-25.5,"x2Offset":25.5,"yOffset":-7.5,"y2Offset":7.5},
"encoding":{"x":{"field":"i","type":"quantitative"},"x2":{"field":"i"},"y":{"field":"p","type":"quantitative"},"y2":{"field":"p"}}},
{"data":{"values":[{"t":"127.870","i":237,"p":127.87},{"t":"127.930","i":311.7,"p":127.926}]},
"mark":{"type":"text","fontSize":13.5,"color":"#ff2a2a","align":"center","baseline":"middle","dy":0.5},
"encoding":{"x":{"field":"i","type":"quantitative"},"y":{"field":"p","type":"quantitative"},"text":{"field":"t"}}},
{"data":{"values":[{"t":"129.432"}]},
"mark":{"type":"rect","fill":"#000000","xOffset":1,"x2Offset":30,"yOffset":-4.5,"y2Offset":4.5,"clip":false},
"encoding":{"x":{"datum":362,"type":"quantitative"},"x2":{"datum":362},"y":{"datum":129.432,"type":"quantitative"},"y2":{"datum":129.432}}},
{"data":{"values":[{"t":"129.432"}]},
"mark":{"type":"text","fontSize":6.5,"color":"#ffffff","align":"left","baseline":"middle","dx":5,"clip":false},
"encoding":{"x":{"datum":362,"type":"quantitative"},"y":{"datum":129.432,"type":"quantitative"},"text":{"field":"t"}}},
{"data":{"values":[{"t":"▼ EURJPY,H4  129.429 129.488 129.262 129.432"}]},
"mark":{"type":"text","fontSize":6.5,"color":"#1a1a1a","align":"left","baseline":"middle"},
"encoding":{"x":{"datum":0.6,"type":"quantitative"},"y":{"datum":132.167,"type":"quantitative"},"text":{"field":"t"}}}
]},
{"width":750,"height":105,
"layer":[
{"data":{"name":"bars"},
"mark":{"type":"rule","color":"#a4a4a4","strokeWidth":1,"clip":true},
"encoding":{"x":{"field":"i","type":"quantitative","scale":{"domain":[0,362],"nice":false,"zero":false},
"axis":{"values":[0,24,48,72,96,120,144,168,192,216,240,264,288,312],"labelExpr":"['22 Jul 2021','28 Jul 08:00','3 Aug 08:00','9 Aug 08:00','13 Aug 08:00','19 Aug 08:00','25 Aug 08:00','31 Aug 08:00','6 Sep 08:00','10 Sep 08:00','16 Sep 08:00','22 Sep 08:00','28 Sep 08:00','4 Oct 08:00'][round(datum.value/24)]","labelAlign":"left","labelBaseline":"top","labelPadding":1,"labelOverlap":false,"labelFlush":false,"grid":true,"tickSize":3,"title":null}},
"y":{"field":"m","type":"quantitative","scale":{"domain":[-0.663,0.587],"nice":false,"zero":false},
"axis":{"orient":"right","values":[-0.6106,0,0.5353],"labelExpr":"datum.value == 0 ? '0.00' : format(datum.value, '.4f')","grid":false,"tickSize":3,"labelPadding":2,"title":null}},
"y2":{"datum":0}}},
{"data":{"name":"bars"},
"mark":{"type":"line","color":"#ff3030","strokeWidth":1,"clip":true},
"encoding":{"x":{"field":"i","type":"quantitative"},"y":{"field":"s","type":"quantitative"}}},
{"data":{"values":[{"i":71.4,"v":-0.667},{"i":123.1,"v":-0.567}]},
"mark":{"type":"line","color":"#333333","strokeWidth":1,"strokeDash":[6,4],"clip":true},
"encoding":{"x":{"field":"i","type":"quantitative"},"y":{"field":"v","type":"quantitative"}}},
{"data":{"values":[{"t":"MACD(15,45,5) -0.0859 -0.1508"}]},
"mark":{"type":"text","fontSize":6.5,"color":"#1a1a1a","align":"left","baseline":"middle"},
"encoding":{"x":{"datum":0.6,"type":"quantitative"},"y":{"datum":0.536,"type":"quantitative"},"text":{"field":"t"}}}
]}
]}
